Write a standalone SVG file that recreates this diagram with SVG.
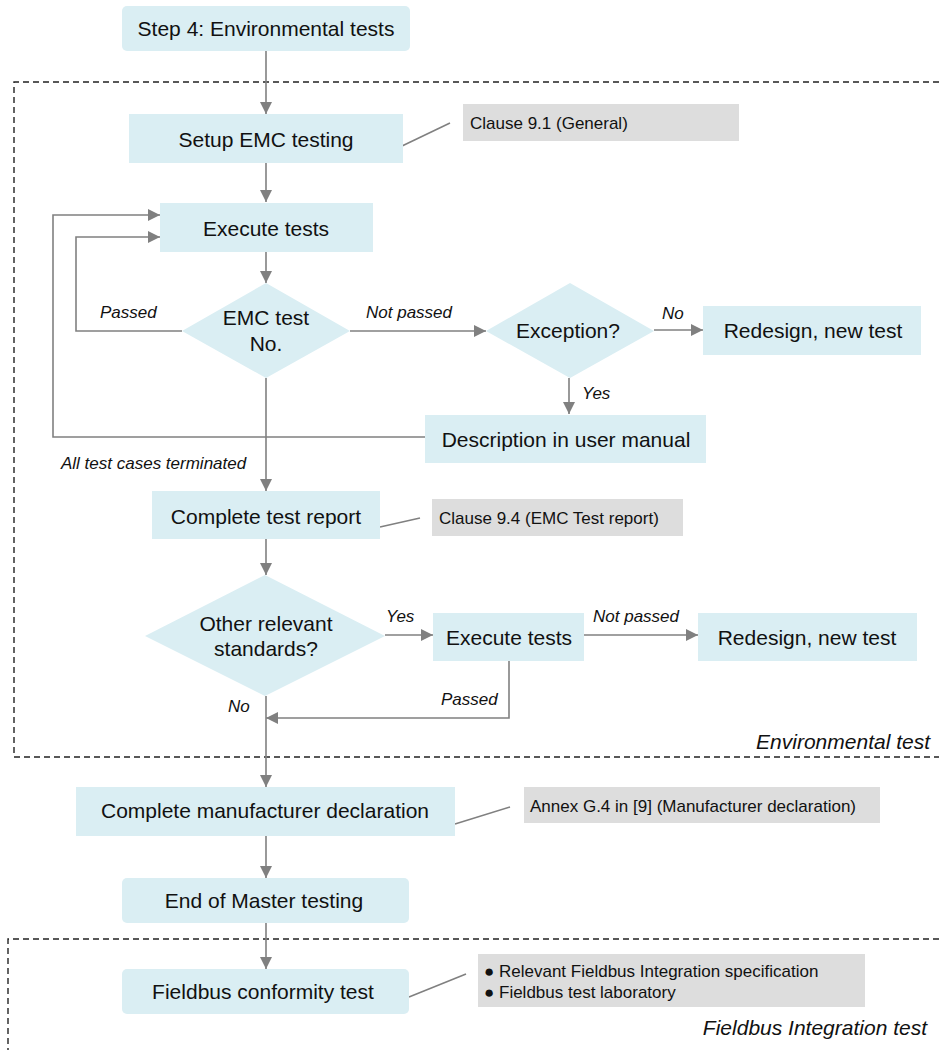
<svg xmlns="http://www.w3.org/2000/svg" width="939" height="1050" viewBox="0 0 939 1050">
<defs>
<style>
.node{fill:#DAEEF3;}
.note{fill:#DDDDDD;}
.t{font-family:"Liberation Sans",Arial,sans-serif;font-size:21px;fill:#111;text-anchor:middle;}
.n{font-family:"Liberation Sans",Arial,sans-serif;font-size:17px;fill:#111;}
.lbl{font-family:"Liberation Sans",Arial,sans-serif;font-size:17px;font-style:italic;fill:#111;}
.big{font-family:"Liberation Sans",Arial,sans-serif;font-size:21px;font-style:italic;fill:#111;}
.c{fill:none;stroke:#808080;stroke-width:1.6;}
.ca{fill:none;stroke:#808080;stroke-width:1.6;marker-end:url(#ah);}
.dash{fill:none;stroke:#222;stroke-width:1.4;stroke-dasharray:6,4;}
</style>
<marker id="ah" viewBox="0 0 12 12" refX="12" refY="6" markerWidth="12" markerHeight="12" markerUnits="userSpaceOnUse" orient="auto">
<path d="M0,0 L12,6 L0,12 Z" fill="#808080"/>
</marker>
</defs>
<rect width="939" height="1050" fill="#fff"/>

<g id="containers">
<path class="dash" d="M939,82 H14 V757 H939"/>
<path class="dash" d="M939,939 H8 V1050"/>
<text class="big" x="930" y="749" text-anchor="end">Environmental test</text>
<text class="big" x="927" y="1035" text-anchor="end">Fieldbus Integration test</text>
</g>

<g id="connectors">
<line class="ca" x1="266" y1="51" x2="266" y2="114"/>
<line class="ca" x1="266" y1="163" x2="266" y2="202"/>
<line class="ca" x1="266" y1="252" x2="266" y2="283"/>
<polyline class="ca" points="182,331 76,331 76,237 160,237"/>
<line class="ca" x1="350" y1="331" x2="486" y2="331"/>
<line class="ca" x1="654" y1="330" x2="703" y2="330"/>
<line class="ca" x1="569" y1="378" x2="569" y2="414"/>
<polyline class="ca" points="425,437 53,437 53,215 160,215"/>
<line class="ca" x1="266" y1="378" x2="266" y2="491"/>
<line class="ca" x1="266" y1="539" x2="266" y2="575"/>
<line class="ca" x1="385" y1="635" x2="433" y2="635"/>
<line class="ca" x1="584" y1="635" x2="698" y2="635"/>
<polyline class="ca" points="509,661 509,718 266,718"/>
<line class="ca" x1="266" y1="696" x2="266" y2="787"/>
<line class="ca" x1="266" y1="836" x2="266" y2="878"/>
<line class="ca" x1="266" y1="923" x2="266" y2="969"/>
<line class="c" x1="402" y1="146" x2="450" y2="123"/>
<line class="c" x1="380" y1="527" x2="420" y2="518"/>
<line class="c" x1="455" y1="824" x2="510" y2="807"/>
<line class="c" x1="409" y1="997" x2="466" y2="974"/>
<text class="lbl" x="100" y="318">Passed</text>
<text class="lbl" x="366" y="318">Not passed</text>
<text class="lbl" x="662" y="319">No</text>
<text class="lbl" x="582" y="399">Yes</text>
<text class="lbl" x="61" y="469">All test cases terminated</text>
<text class="lbl" x="386" y="622">Yes</text>
<text class="lbl" x="593" y="622">Not passed</text>
<text class="lbl" x="441" y="705">Passed</text>
<text class="lbl" x="228" y="712">No</text>
</g>

<g id="step4">
<rect class="node" x="122" y="6" width="288" height="45" rx="5"/>
<text class="t" x="266" y="36">Step 4: Environmental tests</text>
</g>
<g id="setup">
<rect class="node" x="129" y="114" width="274" height="49"/>
<text class="t" x="266" y="147">Setup EMC testing</text>
</g>
<g id="clause91">
<rect class="note" x="463" y="104" width="276" height="37"/>
<text class="n" x="470" y="129">Clause 9.1 (General)</text>
</g>
<g id="execute1">
<rect class="node" x="160" y="203" width="213" height="49"/>
<text class="t" x="266" y="236">Execute tests</text>
</g>
<g id="emcdecision">
<polygon class="node" points="266,283 350,331 266,378 182,331"/>
<text class="t" x="266" y="325">EMC test</text>
<text class="t" x="266" y="351">No.</text>
</g>
<g id="exception">
<polygon class="node" points="570,283 654,331 570,378 486,331"/>
<text class="t" x="568" y="338">Exception?</text>
</g>
<g id="redesign1">
<rect class="node" x="703" y="306" width="218" height="49"/>
<text class="t" x="813" y="338">Redesign, new test</text>
</g>
<g id="description">
<rect class="node" x="425" y="415" width="281" height="48"/>
<text class="t" x="566" y="447">Description in user manual</text>
</g>
<g id="report">
<rect class="node" x="152" y="491" width="228" height="48"/>
<text class="t" x="266" y="524">Complete test report</text>
</g>
<g id="clause94">
<rect class="note" x="432" y="499" width="251" height="37"/>
<text class="n" x="439" y="524">Clause 9.4 (EMC Test report)</text>
</g>
<g id="otherdecision">
<polygon class="node" points="265,575 385,636 265,696 145,636"/>
<text class="t" x="266" y="631">Other relevant</text>
<text class="t" x="266" y="656">standards?</text>
</g>
<g id="execute2">
<rect class="node" x="433" y="613" width="151" height="48"/>
<text class="t" x="509" y="645">Execute tests</text>
</g>
<g id="redesign2">
<rect class="node" x="698" y="613" width="219" height="48"/>
<text class="t" x="807" y="645">Redesign, new test</text>
</g>
<g id="manufacturer">
<rect class="node" x="76" y="787" width="379" height="49"/>
<text class="t" x="265" y="818">Complete manufacturer declaration</text>
</g>
<g id="annex">
<rect class="note" x="524" y="787" width="356" height="36"/>
<text class="n" x="530" y="812">Annex G.4 in [9] (Manufacturer declaration)</text>
</g>
<g id="endmaster">
<rect class="node" x="122" y="878" width="287" height="45" rx="5"/>
<text class="t" x="264" y="908">End of Master testing</text>
</g>
<g id="fieldbus">
<rect class="node" x="122" y="969" width="287" height="45" rx="5"/>
<text class="t" x="263" y="999">Fieldbus conformity test</text>
</g>
<g id="fieldbusnote">
<rect class="note" x="478" y="954" width="387" height="53"/>
<text class="n" x="484" y="977">● Relevant Fieldbus Integration specification</text>
<text class="n" x="484" y="998">● Fieldbus test laboratory</text>
</g>
</svg>
